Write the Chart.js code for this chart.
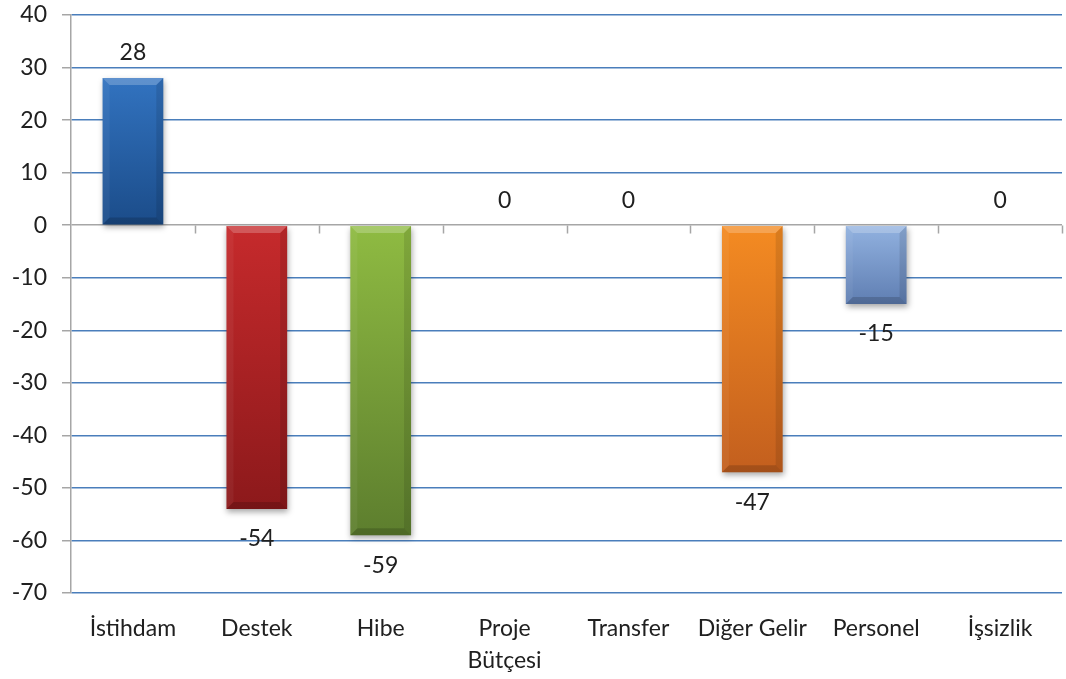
<!DOCTYPE html>
<html>
<head>
<meta charset="utf-8">
<script src="https://cdn.jsdelivr.net/npm/chart.js@4/dist/chart.umd.min.js"></script>
<style>
  html, body { margin: 0; padding: 0; background: #ffffff; }
  #wrap { width: 1066px; height: 679px; }
</style>
</head>
<body>
<div id="wrap"><canvas id="c" width="1066" height="679"></canvas></div>
<script>
// Category names (multi-line where the label wraps)
const categories = ['İstihdam', 'Destek', 'Hibe', ['Proje', 'Bütçesi'], 'Transfer', 'Diğer Gelir', 'Personel', 'İşsizlik'];
// Change values per category
const values = [28, -54, -59, 0, 0, -47, -15, 0];
// Bar colours: [top, bottom] of each bar's vertical gradient
const barTops    = ['#3273c0', '#c62a2c', '#8fbb42', '#f48b22', '#f48b22', '#f48b22', '#92b2e0', '#92b2e0'];
const barBottoms = ['#1b4c89', '#8c191b', '#5d7e2e', '#c35f1e', '#c35f1e', '#c35f1e', '#5f7eb2', '#5f7eb2'];
// Y axis range and step
const yMin = -70, yMax = 40, yStep = 10;

const FONT = 'Lato, "Open Sans", "DejaVu Sans", sans-serif';
const TEXT = '#202020';
const GRID_BLUE = '#4a7ebb';
const AXIS_GRAY = '#a6a6a6';

function barGradient(c) {
  const chart = c.chart;
  const i = c.dataIndex;
  if (!chart.chartArea) return barTops[i];
  const y = chart.scales.y;
  const v = values[i];
  const top = y.getPixelForValue(Math.max(v, 0));
  const bot = y.getPixelForValue(Math.min(v, 0));
  if (Math.abs(bot - top) < 1) return barTops[i];
  const g = chart.ctx.createLinearGradient(0, top, 0, bot);
  g.addColorStop(0, barTops[i]);
  g.addColorStop(1, barBottoms[i]);
  return g;
}

// Drop shadow behind the bars
const shadowPlugin = {
  id: 'barShadow',
  beforeDatasetsDraw(chart) {
    const ctx = chart.ctx;
    ctx.save();
    ctx.shadowColor = 'rgba(0,0,0,0.35)';
    ctx.shadowBlur = 6;
    ctx.shadowOffsetX = 1;
    ctx.shadowOffsetY = 3;
  },
  afterDatasetsDraw(chart) {
    chart.ctx.restore();
  }
};

// Bevelled edges on each bar
const bevelPlugin = {
  id: 'bevel',
  afterDatasetsDraw(chart) {
    const ctx = chart.ctx;
    const meta = chart.getDatasetMeta(0);
    meta.data.forEach((bar) => {
      const L = bar.x - bar.width / 2, R = bar.x + bar.width / 2;
      const T = Math.min(bar.y, bar.base), B = Math.max(bar.y, bar.base);
      if (B - T < 2) return;
      const b = Math.min(7, (B - T) / 2);
      const poly = (pts, fill) => {
        ctx.beginPath();
        ctx.moveTo(pts[0][0], pts[0][1]);
        for (let k = 1; k < pts.length; k++) ctx.lineTo(pts[k][0], pts[k][1]);
        ctx.closePath();
        ctx.fillStyle = fill;
        ctx.fill();
      };
      ctx.save();
      poly([[L, T], [R, T], [R - b, T + b], [L + b, T + b]], 'rgba(255,255,255,0.22)');
      poly([[L, B], [R, B], [R - b, B - b], [L + b, B - b]], 'rgba(0,0,0,0.16)');
      poly([[L, T], [L + b, T + b], [L + b, B - b], [L, B]], 'rgba(255,255,255,0.05)');
      poly([[R, T], [R - b, T + b], [R - b, B - b], [R, B]], 'rgba(0,0,0,0.1)');
      ctx.restore();
    });
  }
};

// Small tick marks hanging from the zero line at category boundaries
const zeroTicksPlugin = {
  id: 'zeroTicks',
  beforeDatasetsDraw(chart) {
    const ctx = chart.ctx;
    const xs = chart.scales.x, ys = chart.scales.y;
    const y0 = Math.round(ys.getPixelForValue(0)) + 0.5;
    const step = xs.getPixelForValue(1) - xs.getPixelForValue(0);
    ctx.save();
    ctx.strokeStyle = AXIS_GRAY;
    ctx.lineWidth = 1.5;
    ctx.beginPath();
    for (let i = 1; i <= categories.length; i++) {
      const x = Math.round(xs.getPixelForValue(i) - step / 2) + 0.5;
      ctx.moveTo(x, y0);
      ctx.lineTo(x, y0 + 8);
    }
    ctx.stroke();
    ctx.restore();
  }
};

// Value labels above positive / zero bars and below negative bars
const valueLabels = {
  id: 'valueLabels',
  afterDatasetsDraw(chart) {
    const ctx = chart.ctx;
    const meta = chart.getDatasetMeta(0);
    ctx.save();
    ctx.font = '23px ' + FONT;
    ctx.fillStyle = TEXT;
    ctx.textAlign = 'center';
    ctx.textBaseline = 'middle';
    meta.data.forEach((bar, i) => {
      const v = values[i];
      const y = v >= 0 ? bar.y - 25 : bar.y + 30;
      ctx.fillText(String(v), bar.x, y);
    });
    ctx.restore();
  }
};

new Chart(document.getElementById('c'), {
  type: 'bar',
  data: {
    labels: categories,
    datasets: [{
      data: values,
      backgroundColor: barGradient,
      borderWidth: 0,
      barPercentage: 0.49,
      categoryPercentage: 1
    }]
  },
  options: {
    responsive: false,
    animation: false,
    devicePixelRatio: 1,
    layout: { padding: { top: 15, right: 4, left: 0, bottom: 0 } },
    plugins: { legend: { display: false }, tooltip: { enabled: false } },
    scales: {
      x: {
        grid: { display: false },
        border: { display: false },
        ticks: {
          color: TEXT,
          font: { family: FONT, size: 23, lineHeight: 1.4 },
          padding: 11,
          maxRotation: 0,
          autoSkip: false
        },
        afterFit(scale) { scale.height = 86; }
      },
      y: {
        min: yMin,
        max: yMax,
        grid: {
          color: (c) => (c.tick && c.tick.value === 0 ? AXIS_GRAY : GRID_BLUE),
          lineWidth: 1.5,
          tickColor: AXIS_GRAY,
          tickLength: 9
        },
        border: { display: true, color: AXIS_GRAY, width: 1.5 },
        ticks: {
          stepSize: yStep,
          color: TEXT,
          font: { family: FONT, size: 23 },
          padding: 15
        },
        afterFit(scale) {
          scale.width = 71;
          scale.paddingTop = 0;
          scale.paddingBottom = 0;
        }
      }
    }
  },
  plugins: [zeroTicksPlugin, shadowPlugin, bevelPlugin, valueLabels]
});
</script>
</body>
</html>
